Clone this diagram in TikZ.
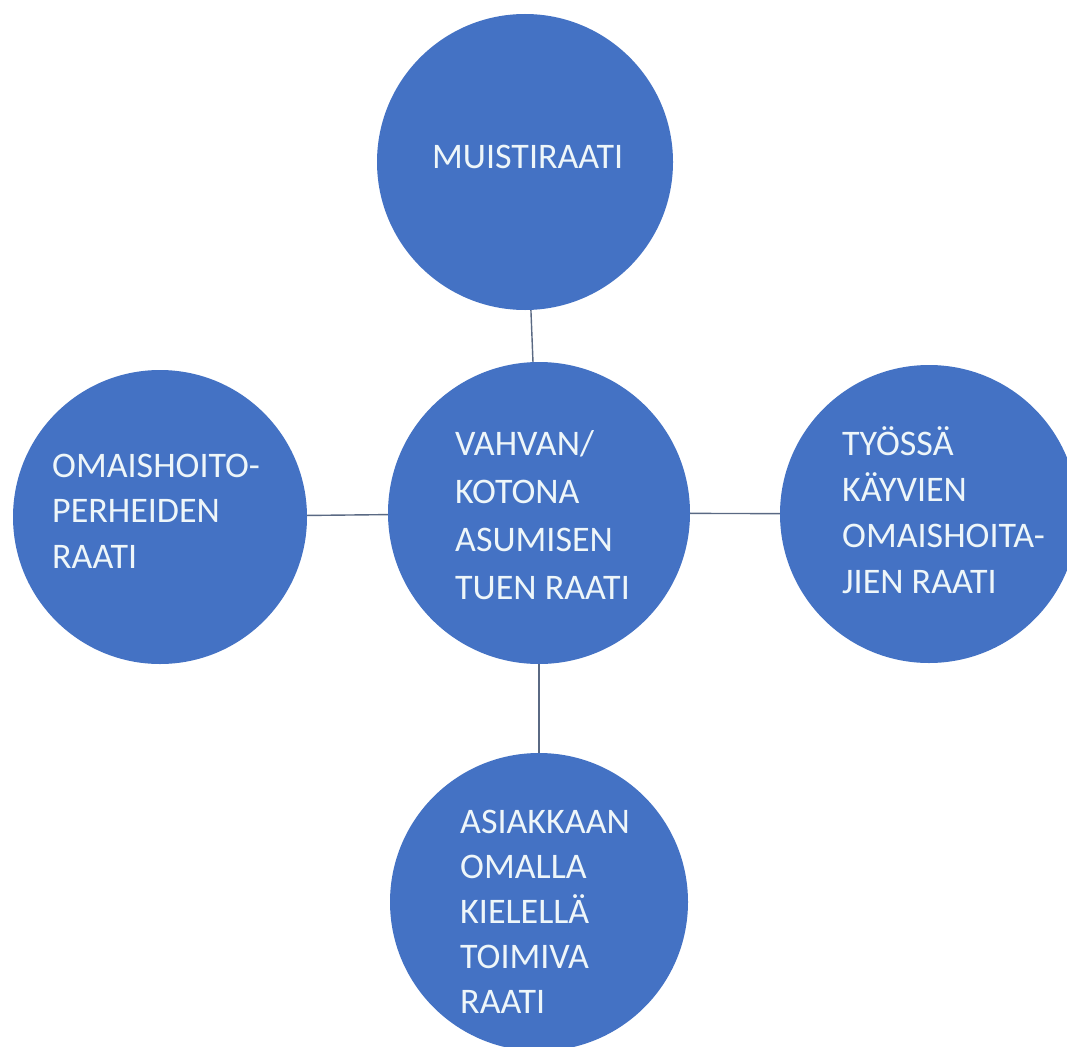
\documentclass[tikz,border=0pt]{standalone}
\usepackage{fontspec}
\setmainfont{Carlito}
\definecolor{discblue}{HTML}{4472C4}
\definecolor{disctext}{HTML}{EEF6F9}
\definecolor{linkgray}{HTML}{5A6983}
\begin{document}
\begin{tikzpicture}[x=1pt,y=-1pt,
  disc/.style={circle,fill=discblue,draw=none,inner sep=0pt,minimum size=#1},
  label/.style={anchor=north west,inner sep=0pt,align=left,text=disctext},
  link/.style={draw=linkgray,line width=1.4pt}]
\useasboundingbox (0,0) rectangle (1067,1046);
\clip (0,0) rectangle (1067,1046);
\fill[white] (0,0) rectangle (1067,1046);

% outer circles and the hub
\node[disc=296pt] (top) at (525,162) {};
\node[disc=302pt] (mid) at (539,513) {};
\node[disc=294pt] (left) at (160,517) {};
\node[disc=298pt] (right) at (929,514) {};
\node[disc=298pt] (bottom) at (539,902) {};

% connectors from the hub to each circle
\draw[link] (top) -- (mid);
\draw[link] (left) -- (mid);
\draw[link] (mid) -- (right);
\draw[link] (mid) -- (bottom);

% labels: first line's baseline sits 30pt below the anchor
\node[label,font=\fontsize{36}{46}\selectfont] (top-t) at (432,138)
  {\rule{0pt}{30pt}MUISTIRAATI};
\node[label,font=\fontsize{36}{48}\selectfont] (mid-t) at (455,425)
  {\rule{0pt}{30pt}VAHVAN/\\KOTONA\\ASUMISEN\\TUEN RAATI};
\node[label,font=\fontsize{36}{45.5}\selectfont] (left-t) at (52,447)
  {\rule{0pt}{30pt}OMAISHOITO-\\PERHEIDEN\\RAATI};
\node[label,font=\fontsize{36}{46}\selectfont] (right-t) at (842,425)
  {\rule{0pt}{30pt}TYÖSSÄ\\KÄYVIEN\\OMAISHOITA-\\JIEN RAATI};
\node[label,font=\fontsize{36}{45}\selectfont] (bottom-t) at (460,803)
  {\rule{0pt}{30pt}ASIAKKAAN\\OMALLA\\KIELELLÄ\\TOIMIVA\\RAATI};
\end{tikzpicture}
\end{document}
